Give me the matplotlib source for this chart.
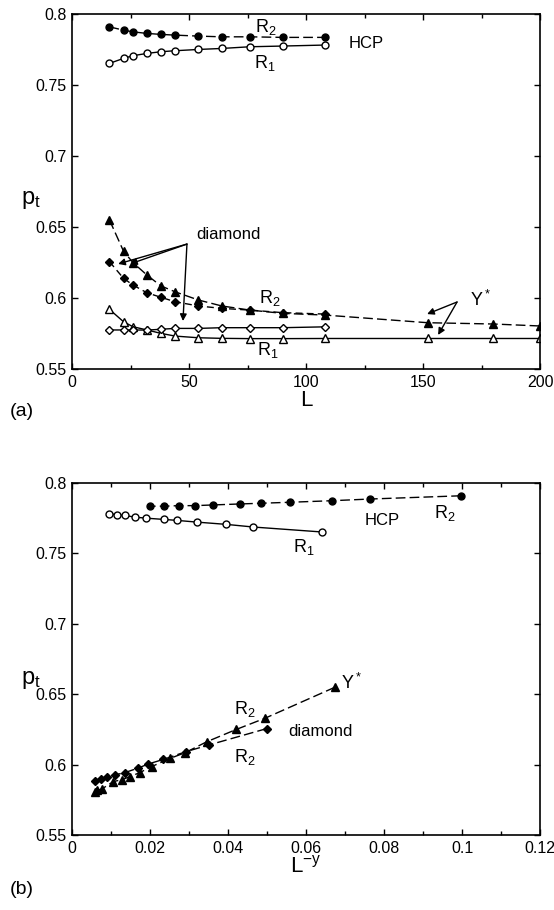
import matplotlib
matplotlib.use("Agg")
import matplotlib.pyplot as plt
from matplotlib.ticker import MultipleLocator, FuncFormatter

plt.rcParams['font.family'] = ['Liberation Sans', 'DejaVu Sans']
plt.rcParams['mathtext.fontset'] = 'custom'
plt.rcParams['mathtext.rm'] = 'Liberation Sans'
plt.rcParams['mathtext.it'] = 'Liberation Sans'
plt.rcParams['mathtext.default'] = 'regular'

# ---------------- data ----------------
# HCP lattice
hcp_L = [16, 22, 26, 32, 38, 44, 54, 64, 76, 90, 108]
hcp_r2 = [0.7910, 0.7887, 0.7875, 0.7864, 0.7857, 0.7852, 0.7845, 0.7840, 0.7840, 0.7836, 0.7836]
hcp_r1 = [0.7653, 0.7688, 0.7707, 0.7723, 0.7735, 0.7742, 0.7751, 0.7758, 0.7770, 0.7775, 0.7782]
hcp_r2_x = [0.0997, 0.0764, 0.0666, 0.0559, 0.0485, 0.0431, 0.0362, 0.0315, 0.0273, 0.0237, 0.0200]
hcp_r1_x = [0.0640, 0.0465, 0.0395, 0.0320, 0.0270, 0.0236, 0.0190, 0.0162, 0.0136, 0.0116, 0.0096]

# Y* lattice
ys_L = [16, 22, 26, 32, 38, 44, 54, 64, 76, 90, 108, 152, 180, 200]
ys_r2 = [0.6550, 0.6330, 0.6250, 0.6162, 0.6085, 0.6044, 0.5986, 0.5944, 0.5915, 0.5892,
         0.5880, 0.5826, 0.5817, 0.5803]
ys_r1 = [0.5920, 0.5833, 0.5798, 0.5775, 0.5751, 0.5732, 0.5720, 0.5716, 0.5714, 0.5714,
         0.5715, 0.5715, 0.5715, 0.5715]
ys_r2_x = [0.0674, 0.0495, 0.0421, 0.0345, 0.0290, 0.0251, 0.0204, 0.0174, 0.0149, 0.0127,
           0.0106, 0.0076, 0.0065, 0.0058]

# diamond lattice
dia_L = [16, 22, 26, 32, 38, 44, 54, 64, 76, 90, 108]
dia_r2 = [0.6256, 0.6139, 0.6092, 0.6037, 0.6005, 0.5974, 0.5944, 0.5927, 0.5915, 0.5897, 0.5887]
dia_r1 = [0.5775, 0.5775, 0.5775, 0.5774, 0.5780, 0.5786, 0.5786, 0.5791, 0.5791, 0.5791, 0.5797]
dia_r2_x = [0.0499, 0.0350, 0.0292, 0.0234, 0.0196, 0.0168, 0.0136, 0.0110, 0.0089, 0.0074, 0.0059]

y_ticks = [0.55, 0.6, 0.65, 0.7, 0.75, 0.8]

# ---------------- figure ----------------
fig = plt.figure(figsize=(5.54, 9.10), dpi=100)
ax1 = fig.add_axes([0.13, 0.5945, 0.845, 0.390])
ax2 = fig.add_axes([0.13, 0.0824, 0.845, 0.3867])

lw = 1.0
dash = (0, (7, 3))
ms = 5.0
fmt = FuncFormatter(lambda v, p: '%g' % round(v, 4))


def style_axes(ax, ylab_y):
    ax.set_ylim(0.55, 0.8)
    ax.set_yticks(y_ticks)
    ax.yaxis.set_major_formatter(fmt)
    ax.xaxis.set_major_formatter(fmt)
    ax.tick_params(which='both', direction='in', top=True, right=True,
                   labelsize=11.5, width=1.0, pad=4)
    ax.tick_params(which='major', length=4.5)
    ax.tick_params(which='minor', length=3)
    for s in ax.spines.values():
        s.set_linewidth(1.2)
    ax.text(-0.088, ylab_y, '$p_t$', transform=ax.transAxes, fontsize=17,
            ha='center', va='center')


# ---- panel (a): p_t vs L ----
ax1.plot(hcp_L, hcp_r2, ls=dash, color='k', lw=lw, marker='o', ms=ms, mfc='k')
ax1.plot(hcp_L, hcp_r1, ls='-', color='k', lw=lw, marker='o', ms=ms, mfc='white')
ax1.plot(ys_L, ys_r2, ls=dash, color='k', lw=lw, marker='^', ms=ms + 0.5, mfc='k')
ax1.plot(ys_L, ys_r1, ls='-', color='k', lw=lw, marker='^', ms=ms + 0.5, mfc='white')
ax1.plot(dia_L, dia_r2, ls=(0, (5, 3)), color='k', lw=lw, marker='D', ms=ms - 1.2, mfc='k')
ax1.plot(dia_L, dia_r1, ls='-', color='k', lw=lw, marker='D', ms=ms - 1.2, mfc='white')

ax1.set_xlim(0, 200)
ax1.xaxis.set_major_locator(MultipleLocator(50))
ax1.xaxis.set_minor_locator(MultipleLocator(25))
style_axes(ax1, 0.475)
ax1.set_xlabel('L', fontsize=16, labelpad=0)

ax1.text(82.9, 0.7908, '$R_2$', fontsize=13, ha='center', va='center')
ax1.text(82.5, 0.7655, '$R_1$', fontsize=13, ha='center', va='center')
ax1.text(125.6, 0.7796, 'HCP', fontsize=12, ha='center', va='center')
ax1.text(66.7, 0.6450, 'diamond', fontsize=12, ha='center', va='center')
ax1.text(84.6, 0.6000, '$R_2$', fontsize=13, ha='center', va='center')
ax1.text(83.8, 0.5634, '$R_1$', fontsize=13, ha='center', va='center')
ax1.text(170.0, 0.5986, '$Y^*$', fontsize=13, ha='left', va='center')

arrow = dict(arrowstyle='-|>', color='k', lw=1.0, mutation_scale=10, shrinkA=0, shrinkB=0)
for tip in [(19.7, 0.6240), (24.8, 0.6240), (47.4, 0.5838)]:
    ax1.annotate('', xy=tip, xytext=(49.1, 0.6380), arrowprops=arrow)
for tip in [(151.7, 0.5887), (156.4, 0.5740)]:
    ax1.annotate('', xy=tip, xytext=(164.5, 0.5972), arrowprops=arrow)

# ---- panel (b): p_t vs L^-y ----
ax2.plot(hcp_r2_x, hcp_r2, ls=dash, color='k', lw=lw, marker='o', ms=ms, mfc='k')
ax2.plot(hcp_r1_x, hcp_r1, ls='-', color='k', lw=lw, marker='o', ms=ms, mfc='white')
ax2.plot(ys_r2_x, ys_r2, ls=dash, color='k', lw=lw, marker='^', ms=ms + 0.5, mfc='k')
ax2.plot(dia_r2_x, dia_r2, ls=dash, color='k', lw=lw, marker='D', ms=ms - 1.2, mfc='k')

ax2.set_xlim(0, 0.12)
ax2.xaxis.set_major_locator(MultipleLocator(0.02))
ax2.xaxis.set_minor_locator(MultipleLocator(0.01))
style_axes(ax2, 0.44)
ax2.set_xlabel('$L^{-y}$', fontsize=16, labelpad=0)

ax2.text(0.0795, 0.7737, 'HCP', fontsize=12, ha='center', va='center')
ax2.text(0.0956, 0.7787, '$R_2$', fontsize=13, ha='center', va='center')
ax2.text(0.0595, 0.7545, '$R_1$', fontsize=13, ha='center', va='center')
ax2.text(0.0690, 0.6580, '$Y^*$', fontsize=13, ha='left', va='center')
ax2.text(0.0444, 0.6395, '$R_2$', fontsize=13, ha='center', va='center')
ax2.text(0.0636, 0.6232, 'diamond', fontsize=12, ha='center', va='center')
ax2.text(0.0444, 0.6054, '$R_2$', fontsize=13, ha='center', va='center')

fig.text(0.018, 1 - 412 / 910, '(a)', fontsize=14, ha='left', va='center')
fig.text(0.018, 1 - 890 / 910, '(b)', fontsize=14, ha='left', va='center')

fig.savefig('out.png', dpi=100)
